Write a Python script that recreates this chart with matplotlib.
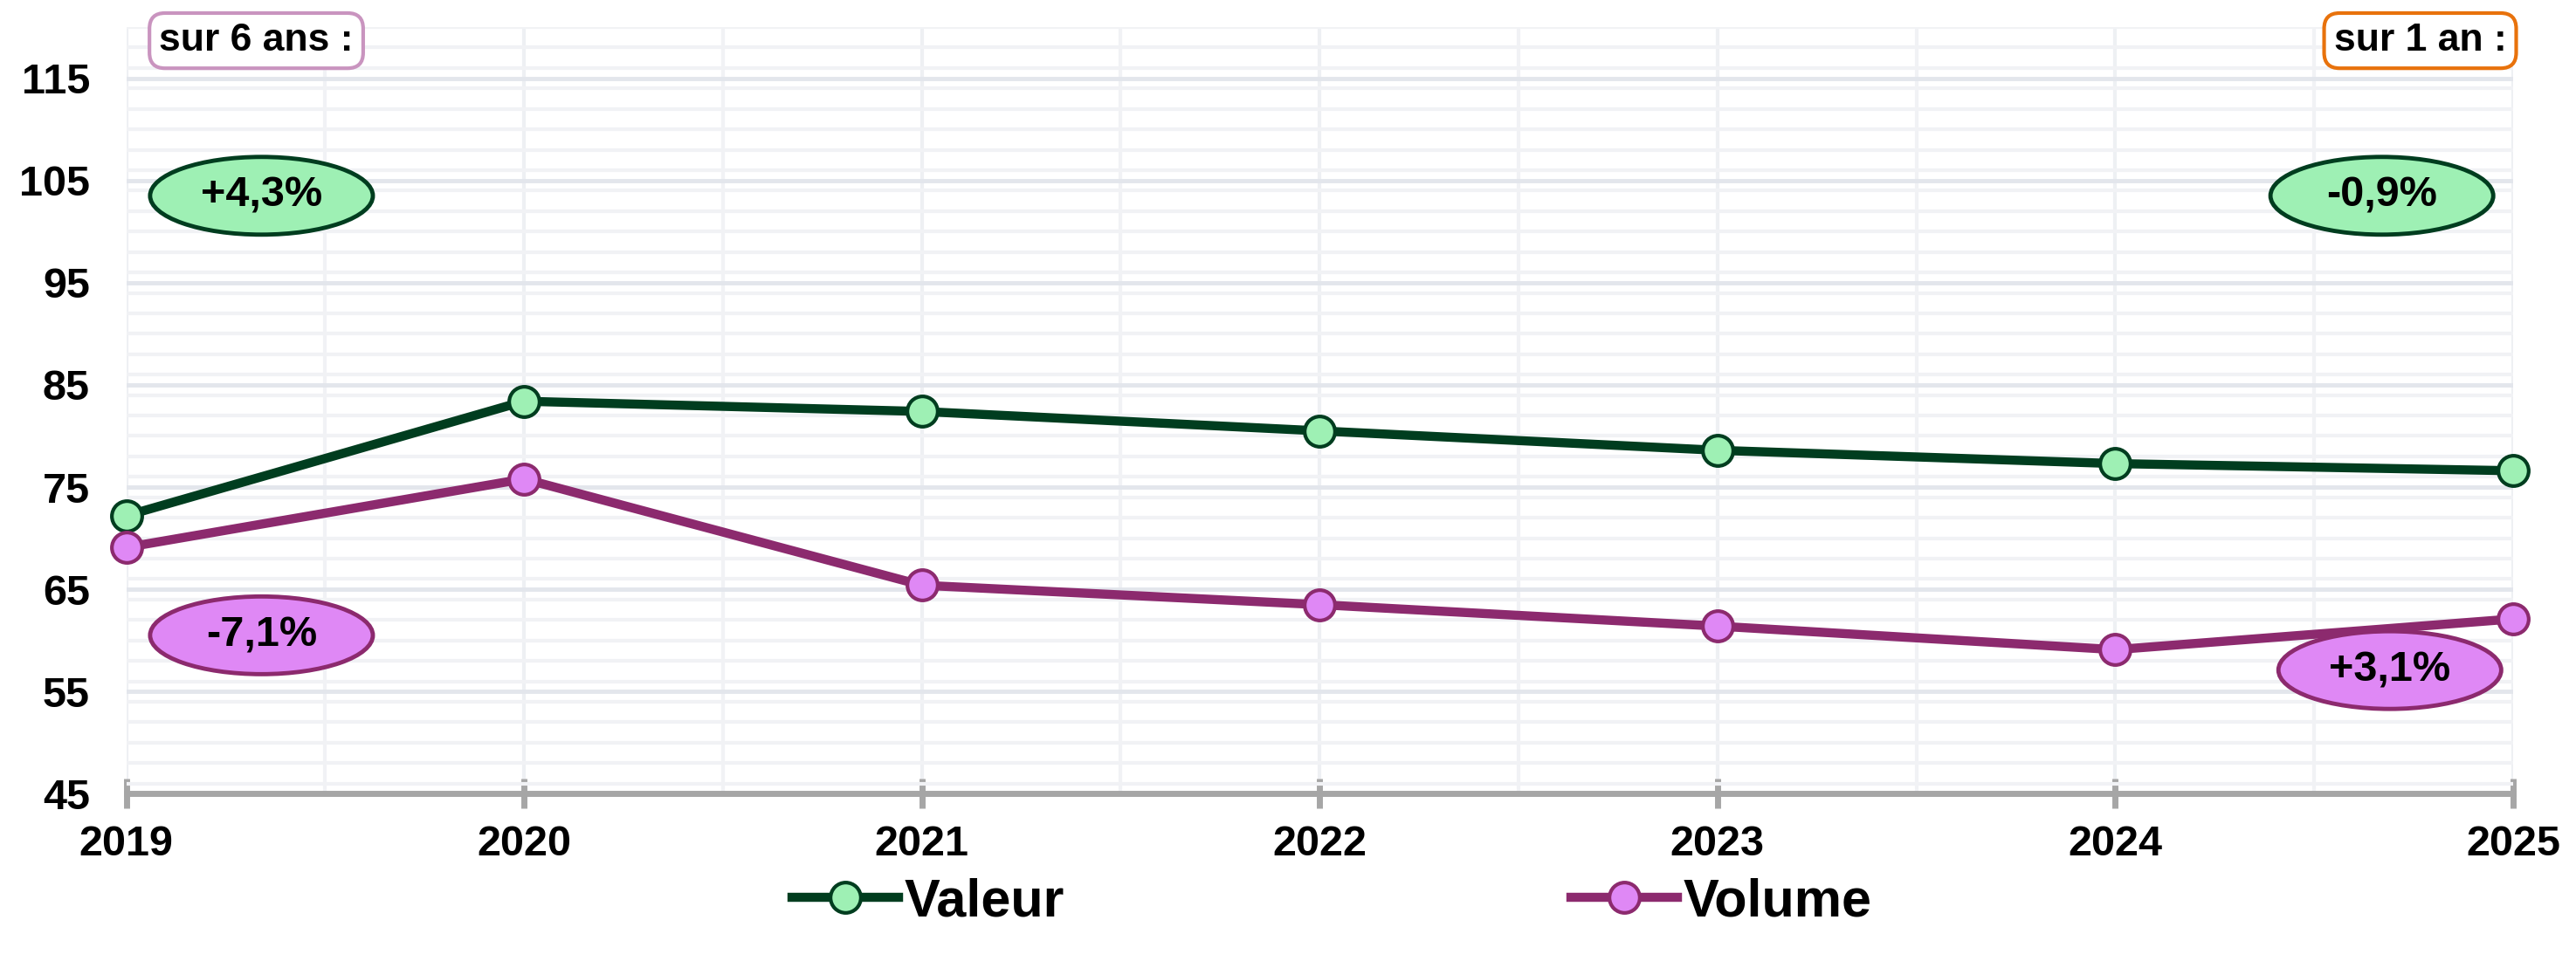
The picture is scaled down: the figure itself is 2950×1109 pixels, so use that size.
import matplotlib
matplotlib.use("Agg")
import matplotlib.pyplot as plt
from matplotlib.patches import Ellipse
from matplotlib.ticker import MultipleLocator

years = [2019, 2020, 2021, 2022, 2023, 2024, 2025]
valeur = [72.2, 83.4, 82.4, 80.5, 78.6, 77.3, 76.6]
volume = [69.1, 75.8, 65.4, 63.5, 61.4, 59.1, 62.1]
y_ticks = [45, 55, 65, 75, 85, 95, 105, 115]

badges_6ans = ["+4,3%", "-7,1%"]
badges_1an = ["-0,9%", "+3,1%"]

font = ["Liberation Sans", "DejaVu Sans"]

green_line, green_fill = "#003d1f", "#9ef0b4"
purple_line, purple_fill = "#8c2a6e", "#df88f5"

fig = plt.figure(figsize=(29.5, 11.09), dpi=100)
ax = fig.add_axes([0.049, 0.180, 0.9266, 0.792])

ax.set_xlim(2019, 2025)
ax.set_ylim(45, 120)

# grid
ax.set_yticks(y_ticks)
ax.yaxis.set_minor_locator(MultipleLocator(2))
ax.set_xticks(years)
ax.xaxis.set_minor_locator(MultipleLocator(0.5))
ax.grid(which="major", axis="y", color="#e3e6ec", linewidth=3.5, zorder=0)
ax.grid(which="minor", axis="y", color="#f1f2f5", linewidth=3, zorder=0)
ax.grid(which="major", axis="x", color="#eef0f3", linewidth=3, zorder=0)
ax.grid(which="minor", axis="x", color="#f1f2f5", linewidth=3, zorder=0)

for side in ["top", "right", "left"]:
    ax.spines[side].set_visible(False)
ax.spines["bottom"].set_color("#a6a6a6")
ax.spines["bottom"].set_linewidth(5)

ax.tick_params(axis="x", which="major", direction="inout", length=24, width=5,
               color="#a6a6a6", pad=14)
ax.tick_params(axis="x", which="minor", length=0)
ax.tick_params(axis="y", which="both", length=0, pad=30)

ax.set_xticklabels([str(y) for y in years], fontsize=35, fontweight="bold", family=font)
ax.set_yticklabels([str(v) for v in y_ticks], fontsize=35, fontweight="bold", family=font)

ax.plot(years, valeur, color=green_line, linewidth=7.5, marker="o", markersize=25,
        markerfacecolor=green_fill, markeredgecolor=green_line, markeredgewidth=3,
        label="Valeur", clip_on=False, zorder=3)
ax.plot(years, volume, color=purple_line, linewidth=7.5, marker="o", markersize=25,
        markerfacecolor=purple_fill, markeredgecolor=purple_line, markeredgewidth=3,
        label="Volume", clip_on=False, zorder=3)

# badges
def badge(x, y, txt, fill, edge):
    e = Ellipse((x, y), 0.56, 7.6, facecolor=fill, edgecolor=edge, linewidth=3.5,
                zorder=5, clip_on=False)
    ax.add_patch(e)
    ax.text(x, y, txt, ha="center", va="center", fontsize=35, fontweight="bold",
            family=font, zorder=6)

badge(2019.34, 103.5, badges_6ans[0], green_fill, green_line)
badge(2019.34, 60.5, badges_6ans[1], purple_fill, purple_line)
badge(2024.67, 103.5, badges_1an[0], green_fill, green_line)
badge(2024.69, 57.1, badges_1an[1], purple_fill, purple_line)

fig.text(0.0995, 0.958, "sur 6 ans :", ha="center", va="center", fontsize=32,
         fontweight="bold", family=font,
         bbox=dict(boxstyle="round,pad=0.25,rounding_size=0.4", facecolor="white",
                   edgecolor="#c994bf", linewidth=3))
fig.text(0.9395, 0.958, "sur 1 an :", ha="center", va="center", fontsize=32,
         fontweight="bold", family=font,
         bbox=dict(boxstyle="round,pad=0.25,rounding_size=0.4", facecolor="white",
                   edgecolor="#e8720c", linewidth=3))

leg = fig.legend(loc="center", bbox_to_anchor=(0.517, 0.068), ncol=2, frameon=False,
                 handlelength=2.0, handletextpad=0.1, columnspacing=9.5,
                 prop={"family": font, "weight": "bold", "size": 44})

fig.savefig("out.png", dpi=100, facecolor="white")
